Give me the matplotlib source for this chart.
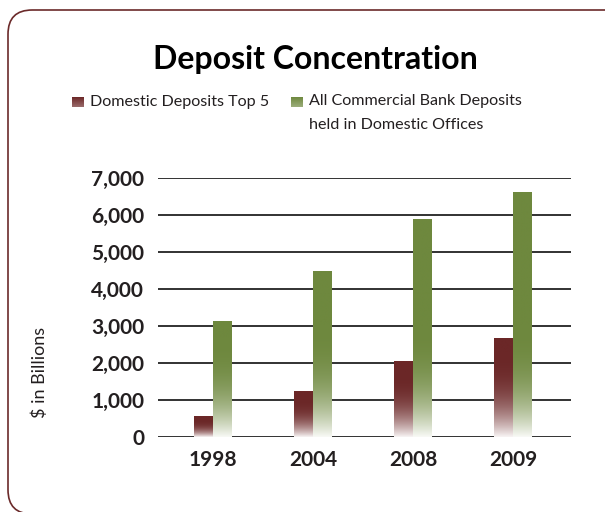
import numpy as np
import matplotlib
matplotlib.use("Agg")
import matplotlib.pyplot as plt
from matplotlib.patches import FancyBboxPatch, Rectangle
from matplotlib.colors import to_rgb

years = ["1998", "2004", "2008", "2009"]
top5 = [550, 1220, 2030, 2650]
all_banks = [3130, 4460, 5890, 6620]
yticks = [0, 1000, 2000, 3000, 4000, 5000, 6000, 7000]
ytick_labels = ["0", "1,000", "2,000", "3,000", "4,000", "5,000", "6,000", "7,000"]
series_names = ["Domestic Deposits Top 5", "All Commercial Bank Deposits\nheld in Domestic Offices"]

RED = "#6b2727"
GREEN = "#6e883e"
FONT = "Lato"

W, H = 605, 512
fig = plt.figure(figsize=(W / 100, H / 100), dpi=100)
fig.patch.set_facecolor("white")

# rounded border
border = FancyBboxPatch((8 / W, -2 / H), 1.2, (H - 10 + 2) / H,
                        boxstyle="round,pad=0,rounding_size=0.04",
                        transform=fig.transFigure, fill=False,
                        edgecolor="#6b2a2a", linewidth=1.2, mutation_aspect=W / H)
fig.patches.append(border)

ax = fig.add_axes([158 / W, 1 - 437 / H, (571 - 158) / W, (437 - 178) / H])
ax.set_xlim(-0.55, 3.58)
ax.set_ylim(0, 7000)
for s in ax.spines.values():
    s.set_visible(False)
for yv in yticks:
    ax.axhline(yv, color="#222222", linewidth=1.3, zorder=1)

def grad_bar(x0, w, h, color):
    base = np.array(to_rgb(color))
    n = 256
    ys = np.linspace(0, h, n)
    L = min(h * 0.85, 3000.0)
    t = np.clip(ys / L, 0, 1)
    a = 0.05 + 0.95 * (1 - (1 - t) ** 2.5)
    img = np.ones((n, 1, 3))
    img[:, 0, :] = (1 - a)[:, None] * 1.0 + a[:, None] * base[None, :]
    ax.imshow(img, extent=(x0, x0 + w, 0, h), origin="lower", aspect="auto",
              interpolation="bilinear", zorder=2)

bw = 0.19
x = np.arange(len(years))
for i in range(len(years)):
    grad_bar(x[i] - bw, bw, top5[i], RED)
    grad_bar(x[i], bw, all_banks[i], GREEN)
ax.set_xlim(-0.55, 3.58)
ax.set_ylim(0, 7000)

ax.set_yticks(yticks)
ax.set_yticklabels(ytick_labels, fontfamily=FONT, fontweight="bold", fontsize=15, color="#231f20")
ax.set_xticks(x)
ax.set_xticklabels(years, fontfamily=FONT, fontweight="bold", fontsize=15, color="#231f20")
ax.tick_params(axis="both", length=0)
ax.tick_params(axis="y", pad=10)
ax.tick_params(axis="x", pad=9)

fig.text(40 / W, 1 - 372 / H, "$ in Billions", rotation=90, ha="center", va="center",
         fontfamily=FONT, fontsize=13, color="#231f20")

fig.text(315 / W, 1 - 60 / H, "Deposit Concentration", ha="center", va="center",
         fontfamily=FONT, fontweight="bold", fontsize=23, color="black")

# legend
def legend_square(px, py, color):
    base = np.array(to_rgb(color))
    n = 20
    for k in range(n):
        f = k / (n - 1)
        c = base + (1 - base) * 0.3 * f
        fig.patches.append(Rectangle((px / W, 1 - (py + 10 * (k + 1) / n) / H), 12 / W, 10 / H / n + 0.0005,
                                     transform=fig.transFigure, facecolor=c, edgecolor="none"))

legend_square(72, 97, RED)
legend_square(291, 97, GREEN)
fig.text(90 / W, 1 - 102 / H, series_names[0], ha="left", va="center",
         fontfamily=FONT, fontsize=11.6, color="#231f20")
fig.text(309 / W, 1 - 94 / H, series_names[1], ha="left", va="top",
         fontfamily=FONT, fontsize=11.6, color="#231f20", linespacing=1.9)

fig.savefig("out.png", dpi=100, facecolor="white")
